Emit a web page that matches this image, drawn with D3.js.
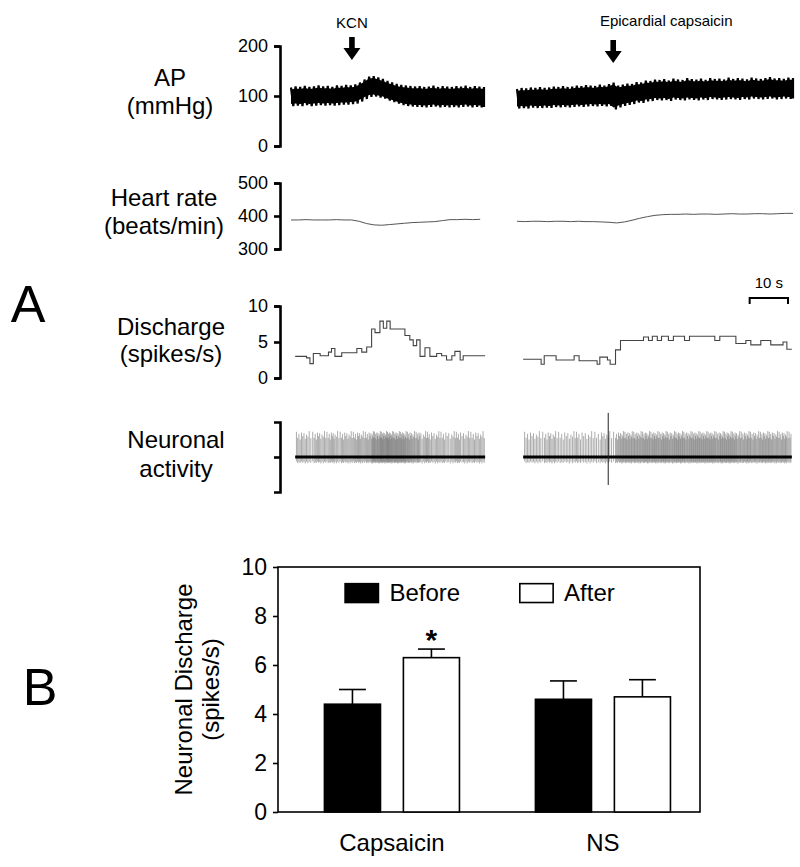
<!DOCTYPE html>
<html><head><meta charset="utf-8">
<script src="https://cdn.jsdelivr.net/npm/d3@7"></script>
<style>body{margin:0;background:#fff}svg{display:block}text{font-family:"Liberation Sans",Arial,sans-serif;fill:#000}</style>
</head><body><svg id="c" width="800" height="867"></svg>
<script>
// ---------- DATA ----------
// Arterial pressure, per-beat systolic / diastolic (mmHg)
const apLeftSys = [117,119,118,120,118,119,121,119,120,118,121,120,122,121,123,127,133,139,140,137,134,130,127,124,122,121,120,119,120,118,119,121,118,120,119,118,120,119,121,118,120,119,118];
const apLeftDia = [80,81,80,82,80,81,82,81,82,81,82,83,83,84,85,89,94,98,99,97,95,91,88,85,82,80,79,78,78,77,78,79,77,78,77,78,77,78,79,77,78,77,78];
const apRightSys = [114,116,115,117,116,118,116,117,119,118,120,118,119,121,120,122,121,120,123,121,124,127,121,123,125,124,128,127,131,130,133,132,134,131,135,133,132,136,134,133,135,132,136,134,135,133,137,134,136,135,133,137,135,134,136,138,135,136,134,137,136];
const apRightDia = [75,76,75,77,76,76,77,76,78,77,78,77,78,79,78,79,80,79,80,79,80,73,77,80,82,84,87,86,89,90,92,91,92,90,93,92,91,93,92,91,93,92,94,93,92,93,94,93,92,94,93,95,94,93,94,95,93,94,95,94,95];
// Heart rate (beats/min), every 2 s
const hrLeft = [388,388,389,388,388,388,389,388,388,384,377,373,372,374,376,378,380,381,382,383,386,389,389,390,389,390];
const hrRight = [384,383,384,384,383,384,384,383,384,383,383,382,381,379,382,387,393,398,402,404,405,405,406,405,406,406,405,406,407,406,406,407,407,406,407,408,408];
// Discharge (spikes/s), step start times (s) and values
const dischLeftT = [1.1,4.1,5.0,5.9,7.7,9.9,10.7,11.6,13.4,17.4,18.7,20.0,21.3,22.2,23.5,24.4,25.3,26.2,30.1,31.4,32.3,33.2,34.1,35.4,36.7,38.5,39.8,41.1,42.5,43.3,44.7,45.5,51.3];
const dischLeftV = [3.0,2.8,2.0,3.4,3.1,3.6,4.1,3.0,3.5,4.1,3.6,4.3,6.8,6.3,7.9,6.9,7.9,6.8,5.9,5.3,4.5,5.3,3.0,4.2,3.0,3.4,3.1,2.5,3.1,3.7,2.5,3.1];
const dischRightT = [1.6,6.3,7.1,10.2,14.9,16.2,20.9,21.6,23.6,24.3,25.7,27.0,33.0,34.3,35.3,36.6,37.7,39.5,40.8,43.7,45.0,51.6,52.9,57.1,59.7,61.0,63.6,66.2,69.4,70.4,71.7];
const dischRightV = [2.6,1.9,3.1,2.5,3.1,2.4,1.9,2.9,2.5,1.9,3.9,5.2,5.7,5.2,5.8,5.2,5.8,5.2,5.8,5.2,5.8,5.2,5.8,4.8,5.2,4.6,5.2,4.6,5.0,4.0];
// Relative spike amplitudes (cycled), stimulus artifact
const spikeAmps = [0.72,0.55,0.66,0.5,0.7,0.6,0.68,0.52,0.64,0.58,0.74,0.54];
const artifactT = 23.8, artifactRange = [-0.8, 1.26];
// Events
const eventLabels = ["KCN","Epicardial capsaicin"];
const eventTimes = [16.1, 25.1];
// Axes ticks
const apTicks = [0,100,200], hrTicks = [300,400,500], dTicks = [0,5,10];
const scaleBarSec = 10;
// Panel B
const groups = ["Capsaicin","NS"];
const conds = ["Before","After"];
const beforeVals = [4.4, 4.6], afterVals = [6.3, 4.7];
const beforeErr = [0.6, 0.75], afterErr = [0.35, 0.7];
const bTicks = [0,2,4,6,8,10];

// ---------- DRAW ----------
const svg = d3.select("#c");
svg.append("rect").attr("width",800).attr("height",867).attr("fill","#fff");
const F = '"Liberation Sans",Arial,sans-serif';

const xL = d3.scaleLinear().domain([0,51]).range([291,484]);
const xR = d3.scaleLinear().domain([0,72]).range([517,793]);
const axisX = 280;

function bracket(scale, ticks, fmt, fs){
  const g = svg.append("g").attr("transform",`translate(${axisX},0)`)
    .call(d3.axisLeft(scale).tickValues(ticks).tickFormat(fmt).tickSize(6).tickSizeOuter(6).tickPadding(6));
  g.selectAll("path,line").attr("stroke","#000").attr("stroke-width",2.6);
  g.selectAll("text").attr("font-size",fs).attr("font-family",F).attr("fill","#000");
  return g;
}
function label(lines, x, ys, fs){
  lines.forEach((t,i)=>svg.append("text").attr("x",x).attr("y",ys[i]).attr("text-anchor","middle").attr("font-size",fs).text(t));
}

// AP
const yAP = d3.scaleLinear().domain([0,200]).range([146,46]);
bracket(yAP, apTicks, d3.format("d"), 18);
label(["AP","(mmHg)"],170,[86,114],24);
function apTrace(xs, sys, dia){
  const idx = d3.scaleLinear().domain([0, sys.length-1]).range(xs.range());
  const half = (idx(1)-idx(0))/2;
  const pts = [];
  sys.forEach((s,i)=>{ pts.push([idx(i), yAP(s)]); if(i<sys.length-1) pts.push([idx(i)+half, yAP(dia[i])]); else pts.push([idx(i), yAP(dia[i])]); });
  svg.append("path").attr("d", d3.line()(pts)).attr("fill","none").attr("stroke","#000").attr("stroke-width",2.2).attr("stroke-linejoin","bevel");
  const area = d3.area().x((d,i)=>idx(i)).y0((d,i)=>yAP(dia[i]+4)).y1((d,i)=>yAP(sys[i]-4));
  svg.append("path").attr("d", area(sys)).attr("fill","#000");
}
apTrace(xL, apLeftSys, apLeftDia);
apTrace(xR, apRightSys, apRightDia);

// Events
const evX = [xL(eventTimes[0]), xR(eventTimes[1])];
const evTextX = [evX[0], evX[1]+53];
eventLabels.forEach((t,i)=>{
  svg.append("text").attr("x",evTextX[i]).attr("y",i?26:28).attr("text-anchor","middle").attr("font-size",15).text(t);
  const x = evX[i], y0 = i?40:37, y1 = i?63:60;
  svg.append("path").attr("d",`M${x-2.8},${y0}H${x+2.8}V${y1-12}H${x+8.5}L${x},${y1}L${x-8.5},${y1-12}H${x-2.8}Z`).attr("fill","#000");
});

// Heart rate
const yHR = d3.scaleLinear().domain([300,500]).range([249,183]);
bracket(yHR, hrTicks, d3.format("d"), 18);
label(["Heart rate","(beats/min)"],164,[206,234],24);
const hrLine = xs => d3.line().x((d,i)=>xs(i*2)).y(d=>yHR(d));
svg.append("path").attr("d",hrLine(xL)(hrLeft)).attr("fill","none").attr("stroke","#555").attr("stroke-width",1);
svg.append("path").attr("d",hrLine(xR)(hrRight)).attr("fill","none").attr("stroke","#555").attr("stroke-width",1);

// Discharge
const yD = d3.scaleLinear().domain([0,10]).range([378,306]);
bracket(yD, dTicks, d3.format("d"), 18);
label(["Discharge","(spikes/s)"],171,[335,362],24);
function stepTrace(xs, T, V){
  const pts = V.map((v,i)=>[T[i], v]); pts.push([T[T.length-1], V[V.length-1]]);
  svg.append("path").attr("d", d3.line().curve(d3.curveStepAfter).x(d=>xs(d[0])).y(d=>yD(d[1]))(pts))
    .attr("fill","none").attr("stroke","#444").attr("stroke-width",1.1);
}
stepTrace(xL, dischLeftT, dischLeftV);
stepTrace(xR, dischRightT, dischRightV);
svg.append("text").attr("x",28).attr("y",322).attr("text-anchor","middle").attr("font-size",52).text("A");

// Scale bar
const sbX1 = 788, sbX0 = sbX1 - (xR(scaleBarSec)-xR(0));
svg.append("path").attr("d",`M${sbX0},304V298H${sbX1}V304`).attr("fill","none").attr("stroke","#000").attr("stroke-width",2);
svg.append("text").attr("x",(sbX0+sbX1)/2).attr("y",288).attr("text-anchor","middle").attr("font-size",15).text(scaleBarSec+" s");

// Neuronal activity
const yN = d3.scaleLinear().domain([-1,1]).range([492,422]);
bracket(yN, [0], ()=>"", 18);
label(["Neuronal","activity"],176,[448,477],24);
function spikes(xs, T, V){
  const g = svg.append("g");
  let acc = 0;
  const times = [];
  for(let i=0;i<V.length;i++){
    const t1 = T[i+1];
    let t = T[i];
    while(true){
      const need = (1-acc)/V[i];
      if(t+need > t1){ acc += (t1-t)*V[i]; break; }
      t += need; acc = 0; times.push(t);
    }
  }
  g.selectAll("line").data(times).join("line")
    .attr("x1",d=>xs(d)).attr("x2",d=>xs(d))
    .attr("y1",(d,i)=>yN(-spikeAmps[(i+3)%spikeAmps.length]*0.25))
    .attr("y2",(d,i)=>yN(spikeAmps[i%spikeAmps.length]))
    .attr("stroke","#666").attr("stroke-width",0.55);
  svg.append("line").attr("x1",xs(T[0])).attr("x2",xs(T[T.length-1])).attr("y1",yN(0)).attr("y2",yN(0))
    .attr("stroke","#000").attr("stroke-width",3);
}
spikes(xL, dischLeftT, dischLeftV);
spikes(xR, dischRightT, dischRightV);
svg.append("line").attr("x1",xR(artifactT)).attr("x2",xR(artifactT)).attr("y1",yN(artifactRange[0])).attr("y2",yN(artifactRange[1])).attr("stroke","#222").attr("stroke-width",1);

// ---------- PANEL B ----------
const bL = 278, bR = 700, bT = 567, bB = 812, W = bR-bL;
const y = d3.scaleLinear().domain([0,10]).range([bB,bT]);
const gx = d3.scalePoint().domain(groups).range([bL+0.27*W, bL+0.77*W]);
const sub = d3.scaleBand().domain(conds).range([-0.16*W, 0.16*W]).paddingInner(0.29);
svg.append("rect").attr("x",bL).attr("y",bT).attr("width",W).attr("height",bB-bT).attr("fill","none").attr("stroke","#000").attr("stroke-width",1.6);
const ya = svg.append("g").attr("transform",`translate(${bL},0)`).call(d3.axisLeft(y).tickValues(bTicks).tickSize(5).tickSizeOuter(0).tickPadding(6));
ya.select(".domain").remove();
ya.selectAll("line").attr("stroke","#000").attr("stroke-width",1.6);
ya.selectAll("text").attr("font-size",23).attr("font-family",F).attr("fill","#000");

const barData = [];
groups.forEach((g,i)=>{
  barData.push({g, c:"Before", v:beforeVals[i], e:beforeErr[i]});
  barData.push({g, c:"After", v:afterVals[i], e:afterErr[i]});
});
const bw = sub.bandwidth();
barData.forEach(d=>{
  const x0 = gx(d.g)+sub(d.c), xc = x0+bw/2;
  svg.append("line").attr("x1",xc).attr("x2",xc).attr("y1",y(d.v)).attr("y2",y(d.v+d.e)).attr("stroke","#000").attr("stroke-width",1.6);
  svg.append("line").attr("x1",xc-bw*0.24).attr("x2",xc+bw*0.24).attr("y1",y(d.v+d.e)).attr("y2",y(d.v+d.e)).attr("stroke","#000").attr("stroke-width",1.6);
  svg.append("rect").attr("x",x0).attr("y",y(d.v)).attr("width",bw).attr("height",y(0)-y(d.v))
    .attr("fill",d.c==="Before"?"#000":"#fff").attr("stroke","#000").attr("stroke-width",1.6);
});
const star = barData[1];
svg.append("text").attr("x",gx(star.g)+sub(star.c)+bw/2).attr("y",y(star.v+star.e)+1).attr("text-anchor","middle").attr("font-size",30).attr("font-weight","bold").text("*");

// legend
const lx = [bL+0.159*W, bL+0.573*W], lw = 0.079*W;
conds.forEach((c,i)=>{
  svg.append("rect").attr("x",lx[i]).attr("y",y(9.32)).attr("width",lw).attr("height",y(8.55)-y(9.32))
    .attr("fill",i?"#fff":"#000").attr("stroke","#000").attr("stroke-width",1.6);
  svg.append("text").attr("x",lx[i]+lw+0.026*W).attr("y",y(8.6)).attr("font-size",24).text(c);
});
groups.forEach(g=>svg.append("text").attr("x",gx(g)).attr("y",851).attr("text-anchor","middle").attr("font-size",24).text(g));
[["Neuronal Discharge",192],["(spikes/s)",219]].forEach(([t,x])=>
  svg.append("text").attr("transform",`translate(${x},${(bT+bB)/2}) rotate(-90)`).attr("text-anchor","middle").attr("font-size",24).text(t));
svg.append("text").attr("x",40).attr("y",705).attr("text-anchor","middle").attr("font-size",52).text("B");
</script></body></html>
